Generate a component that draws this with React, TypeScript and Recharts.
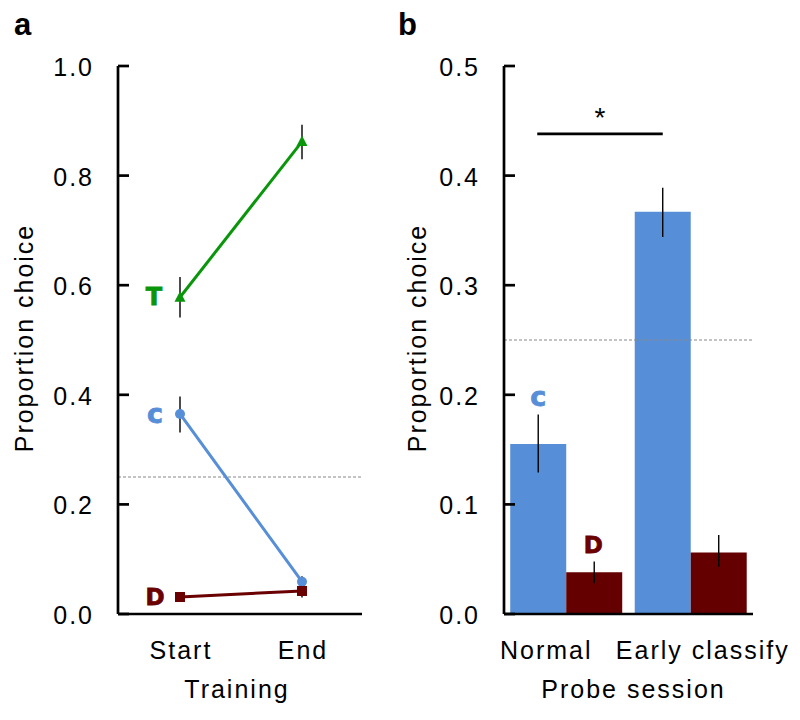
import React from 'react';
import {
  LineChart,
  Line,
  BarChart,
  Bar,
  XAxis,
  YAxis,
  ErrorBar,
  ReferenceLine,
  ReferenceDot,
} from 'recharts';

const FONT = '"Liberation Sans", Arial, Helvetica, sans-serif';
const LETTER_FONT = '"DejaVu Sans", "Liberation Sans", sans-serif';

const GREEN = '#0a960a';
const BLUE = '#568ed7';
const MAROON = '#6a0000';
const BAR_MAROON = '#640000';

// panel a - training
const stages = ['Start', 'End'];
const targetMean = [0.578, 0.862];
const targetLow = [0.541, 0.83];
const targetHigh = [0.615, 0.893];
const closeMean = [0.365, 0.059];
const closeLow = [0.331, 0.05];
const closeHigh = [0.397, 0.069];
const distantMean = [0.031, 0.042];
const distantLow = [0.029, 0.03];
const distantHigh = [0.033, 0.054];
const ticksA = [0, 0.2, 0.4, 0.6, 0.8, 1.0];

// panel b - probe sessions
const sessions = ['Normal', 'Early classify'];
const probeCloseMean = [0.155, 0.367];
const probeCloseLow = [0.129, 0.344];
const probeCloseHigh = [0.182, 0.389];
const probeDistantMean = [0.038, 0.056];
const probeDistantLow = [0.028, 0.043];
const probeDistantHigh = [0.048, 0.072];
const ticksB = [0, 0.1, 0.2, 0.3, 0.4, 0.5];

const chance = 0.25;
const sigLevel = 0.438;
const closeLabelLevel = 0.198;
const distantLabelLevel = 0.063;

// half a bar: offset from a category centre to the centre of its left / right bar
const HALF_BAR = 28;

const err = (m: number[], lo: number[], hi: number[]) =>
  m.map((v, i) => [v - lo[i], hi[i] - v]);

const tErr = err(targetMean, targetLow, targetHigh);
const cErr = err(closeMean, closeLow, closeHigh);
const dErr = err(distantMean, distantLow, distantHigh);
const trainingData = stages.map((stage, i) => ({
  stage,
  T: targetMean[i],
  tErr: tErr[i],
  C: closeMean[i],
  cErr: cErr[i],
  D: distantMean[i],
  dErr: dErr[i],
}));

const pcErr = err(probeCloseMean, probeCloseLow, probeCloseHigh);
const pdErr = err(probeDistantMean, probeDistantLow, probeDistantHigh);
const probeData = sessions.map((session, i) => ({
  session,
  C: probeCloseMean[i],
  cErr: pcErr[i],
  D: probeDistantMean[i],
  dErr: pdErr[i],
}));

const textCss = { fontFamily: FONT, fontSize: 25, letterSpacing: 2 };

const YTick = ({ x, y, payload }: any) => (
  <g>
    <line x1={x} x2={x + 11} y1={y} y2={y} stroke="#000" strokeWidth={2.7} />
    <text x={x - 24} y={y + 1} textAnchor="end" dominantBaseline="central" fill="#000" style={textCss}>
      {Number(payload.value).toFixed(1)}
    </text>
  </g>
);

const makeXTick = (shift: number[]) => ({ x, y, payload, index }: any) => (
  <text x={x + (shift[index] ?? 0)} y={y + 45} textAnchor="middle" fill="#000" style={textCss}>
    {payload.value}
  </text>
);

const xTitle = (label: string, dx: number) => (props: any) => {
  const vb = props.viewBox;
  return (
    <text x={vb.x + vb.width / 2 + dx} y={vb.y + 84} textAnchor="middle" fill="#000" style={textCss}>
      {label}
    </text>
  );
};

const yTitle = (cx: number) => (props: any) => {
  const vb = props.viewBox;
  const cy = vb.y + vb.height / 2 - 2;
  return (
    <text
      x={cx}
      y={cy}
      transform={`rotate(-90 ${cx} ${cy})`}
      textAnchor="middle"
      dominantBaseline="central"
      fill="#000"
      style={textCss}
    >
      Proportion choice
    </text>
  );
};

const letter = (ch: string, color: string, size: number, dx: number) => (p: any) => (
  <text
    x={p.cx + dx}
    y={p.cy}
    textAnchor="middle"
    dominantBaseline="central"
    fill={color}
    stroke={color}
    strokeWidth={0.8}
    style={{ fontFamily: LETTER_FONT, fontWeight: 'bold', fontSize: size }}
  >
    {ch}
  </text>
);

const triangleDot = (color: string) => (p: any) => (
  <path
    key={`tri-${p.index}`}
    d={`M${p.cx},${p.cy - 6} L${p.cx + 5.5},${p.cy + 4.5} L${p.cx - 5.5},${p.cy + 4.5} Z`}
    fill={color}
  />
);
const circleDot = (color: string) => (p: any) => (
  <circle key={`cir-${p.index}`} cx={p.cx} cy={p.cy} r={5} fill={color} />
);
const squareDot = (color: string) => (p: any) => (
  <rect key={`sq-${p.index}`} x={p.cx - 5} y={p.cy - 5} width={10} height={10} fill={color} />
);

// significance bracket between the two "C" bars, with its star
const SigBar = (p: any) => {
  const x1 = p.x1 - HALF_BAR - 1;
  const x2 = p.x2 - HALF_BAR;
  return (
    <g>
      <line x1={x1} x2={x2} y1={p.y1} y2={p.y2} stroke="#000" strokeWidth={2.7} />
      <text x={(x1 + x2) / 2} y={p.y1 - 7} textAnchor="middle" fill="#000" style={{ fontFamily: FONT, fontSize: 28 }}>
        *
      </text>
    </g>
  );
};

const axisLine = { stroke: '#000', strokeWidth: 2.7 };

function TrainingPanel() {
  return (
    <LineChart
      width={400}
      height={720}
      data={trainingData}
      margin={{ top: 66, right: 38, bottom: 0, left: 0 }}
    >
      <XAxis
        dataKey="stage"
        type="category"
        padding={{ left: 62, right: 60 }}
        axisLine={axisLine}
        tickLine={false}
        tickSize={0}
        tickMargin={0}
        height={106}
        tick={makeXTick([1, 1])}
        label={xTitle('Training', -3)}
      />
      <YAxis
        domain={[0, 1]}
        ticks={ticksA}
        width={118}
        axisLine={axisLine}
        tickLine={false}
        tickSize={0}
        tickMargin={0}
        tick={<YTick />}
        label={yTitle(24)}
      />
      <ReferenceLine y={chance} stroke="#888" strokeDasharray="3 2" strokeWidth={1.2} />
      <Line
        dataKey="T"
        stroke={GREEN}
        strokeWidth={3}
        dot={triangleDot(GREEN)}
        activeDot={false}
        isAnimationActive={false}
      >
        <ErrorBar dataKey="tErr" width={0} stroke="#000" strokeWidth={1.4} direction="y" />
      </Line>
      <Line
        dataKey="C"
        stroke={BLUE}
        strokeWidth={3}
        dot={circleDot(BLUE)}
        activeDot={false}
        isAnimationActive={false}
      >
        <ErrorBar dataKey="cErr" width={0} stroke="#000" strokeWidth={1.4} direction="y" />
      </Line>
      <Line
        dataKey="D"
        stroke={MAROON}
        strokeWidth={3}
        dot={squareDot(MAROON)}
        activeDot={false}
        isAnimationActive={false}
      >
        <ErrorBar dataKey="dErr" width={0} stroke="#000" strokeWidth={1.4} direction="y" />
      </Line>
      <ReferenceDot x={stages[0]} y={targetMean[0]} r={0} shape={letter('T', GREEN, 24, -26)} />
      <ReferenceDot x={stages[0]} y={closeMean[0]} r={0} shape={letter('c', BLUE, 27, -25)} />
      <ReferenceDot x={stages[0]} y={distantMean[0]} r={0} shape={letter('D', MAROON, 23, -25)} />
    </LineChart>
  );
}

function ProbePanel() {
  return (
    <BarChart
      width={400}
      height={720}
      data={probeData}
      barCategoryGap="5%"
      barGap={0}
      margin={{ top: 66, right: 47, bottom: 0, left: 0 }}
    >
      <XAxis
        dataKey="session"
        type="category"
        axisLine={axisLine}
        tickLine={false}
        tickSize={0}
        tickMargin={0}
        height={106}
        tick={makeXTick([-20, 12])}
        label={xTitle('Probe session', 5)}
      />
      <YAxis
        domain={[0, 0.5]}
        ticks={ticksB}
        width={104}
        axisLine={axisLine}
        tickLine={false}
        tickSize={0}
        tickMargin={0}
        tick={<YTick />}
        label={yTitle(17)}
      />
      <Bar dataKey="C" fill={BLUE} isAnimationActive={false}>
        <ErrorBar dataKey="cErr" width={0} stroke="#000" strokeWidth={1.4} direction="y" />
      </Bar>
      <Bar dataKey="D" fill={BAR_MAROON} isAnimationActive={false}>
        <ErrorBar dataKey="dErr" width={0} stroke="#000" strokeWidth={1.4} direction="y" />
      </Bar>
      <ReferenceLine y={chance} stroke="#888" strokeDasharray="3 2" strokeWidth={1.2} />
      <ReferenceLine
        segment={[
          { x: sessions[0], y: sigLevel },
          { x: sessions[1], y: sigLevel },
        ]}
        shape={SigBar}
      />
      <ReferenceDot
        x={sessions[0]}
        y={closeLabelLevel}
        r={0}
        shape={letter('c', BLUE, 27, -HALF_BAR)}
      />
      <ReferenceDot
        x={sessions[0]}
        y={distantLabelLevel}
        r={0}
        shape={letter('D', MAROON, 23, HALF_BAR - 1)}
      />
    </BarChart>
  );
}

export default function App() {
  return (
    <div
      style={{
        position: 'absolute',
        left: 0,
        top: 0,
        width: 800,
        height: 720,
        background: '#fff',
        fontFamily: FONT,
      }}
    >
      <div style={{ position: 'absolute', left: 0, top: 0 }}>
        <TrainingPanel />
      </div>
      <div style={{ position: 'absolute', left: 400, top: 0 }}>
        <ProbePanel />
      </div>
      <svg
        width={800}
        height={60}
        style={{ position: 'absolute', left: 0, top: 0, pointerEvents: 'none' }}
      >
        <text x={14} y={35} fill="#000" style={{ fontFamily: FONT, fontWeight: 'bold', fontSize: 31 }}>
          a
        </text>
        <text x={398} y={35} fill="#000" style={{ fontFamily: FONT, fontWeight: 'bold', fontSize: 31 }}>
          b
        </text>
      </svg>
    </div>
  );
}
